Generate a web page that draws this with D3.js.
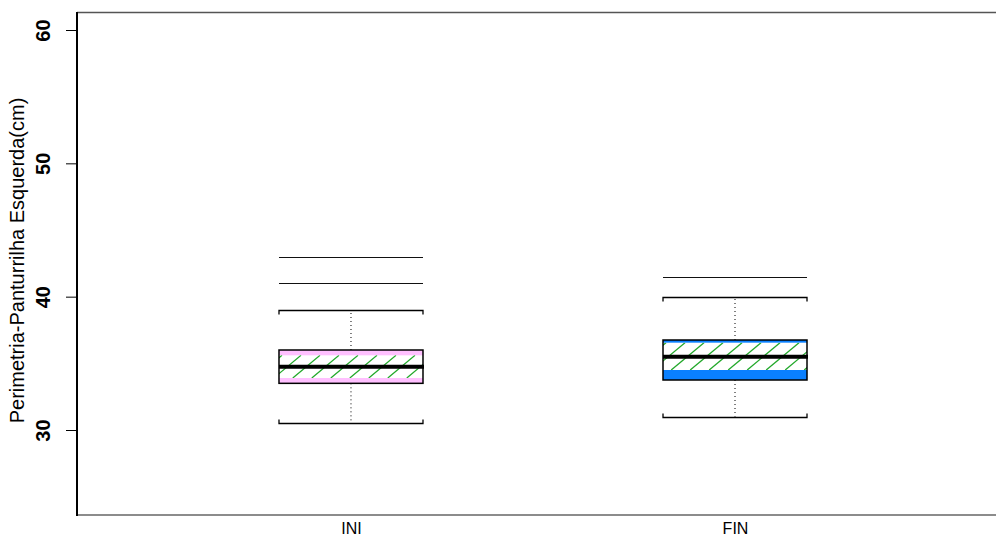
<!DOCTYPE html>
<html>
<head>
<meta charset="utf-8">
<script src="https://cdn.jsdelivr.net/npm/d3@7"></script>
<style>
  html, body { margin: 0; padding: 0; background: #fff; }
  svg { display: block; }
</style>
</head>
<body>
<svg id="chart" width="996" height="539"></svg>
<script>
// Calf perimeter (left leg) at start and end of the program
const categories = ["INI", "FIN"];
const whiskerLow = [30.5, 31];
const q1 = [33.5, 33.75];
const medians = [34.75, 35.5];
const q3 = [36, 36.75];
const whiskerHigh = [39, 40];
const outliers = [[41, 43], [41.5]];
const ciLow = [33.9, 34.5];
const ciHigh = [35.6, 36.55];
const boxColors = ["#ffc0ff", "#0a80ff"];
const yTicks = [30, 40, 50, 60];
const yLabel = "Perimetria-Panturrilha Esquerda(cm)";

const boxes = categories.map((c, i) => ({
  cat: c, lo: whiskerLow[i], q1: q1[i], med: medians[i], q3: q3[i],
  hi: whiskerHigh[i], out: outliers[i], ciLo: ciLow[i], ciHi: ciHigh[i],
  color: boxColors[i]
}));

const svg = d3.select("#chart");
const plotLeft = 77, plotTop = 12, plotBottom = 515, plotRight = 996;

const y = d3.scaleLinear().domain([30, 60]).range([430, 30]);
const x = d3.scalePoint().domain(categories).range([plotLeft, 1009]).padding(0.7135);
const boxW = 144;

// frame: left axis line, top and bottom rules
svg.append("line").attr("x1", plotLeft).attr("x2", plotRight).attr("y1", plotTop + 0.5).attr("y2", plotTop + 0.5)
  .attr("stroke", "#555").attr("stroke-width", 1.5);
svg.append("line").attr("x1", plotLeft).attr("x2", plotRight).attr("y1", plotBottom).attr("y2", plotBottom)
  .attr("stroke", "#666").attr("stroke-width", 1.5);

// y axis
const yAxis = d3.axisLeft(y).tickValues(yTicks).tickSize(11).tickPadding(0).tickFormat(d3.format("d"));
const gy = svg.append("g").attr("transform", `translate(${plotLeft},0)`).call(yAxis);
gy.select(".domain").remove();
gy.append("line").attr("x1", 0).attr("x2", 0).attr("y1", plotTop).attr("y2", plotBottom + 1)
  .attr("stroke", "#000").attr("stroke-width", 2);
gy.selectAll(".tick line").attr("stroke", "#000").attr("stroke-width", 1);
gy.selectAll(".tick text")
  .attr("x", 0).attr("dy", null)
  .attr("transform", "translate(-34,0) rotate(-90)")
  .attr("text-anchor", "middle").attr("dominant-baseline", "central")
  .attr("fill", "#000")
  .style("font-family", "'Liberation Sans', Arial, sans-serif")
  .style("font-size", "20px").style("font-weight", "bold");

svg.append("text")
  .attr("transform", `translate(17,${(plotTop + plotBottom) / 2 - 3}) rotate(-90)`)
  .attr("text-anchor", "middle").attr("dominant-baseline", "central")
  .style("font-family", "'Liberation Sans', Arial, sans-serif")
  .style("font-size", "20px").attr("fill", "#000")
  .text(yLabel);

// x axis labels
const xAxis = d3.axisBottom(x).tickSize(0).tickPadding(8);
const gx = svg.append("g").attr("transform", `translate(0,${plotBottom})`).call(xAxis);
gx.select(".domain").remove();
gx.selectAll(".tick text").attr("fill", "#000")
  .style("font-family", "'Liberation Sans', Arial, sans-serif")
  .style("font-size", "16px");

// boxes
const g = svg.append("g");
const defs = svg.append("defs");

boxes.forEach((b, i) => {
  const cx = x(b.cat);
  const x0 = cx - boxW / 2, x1 = cx + boxW / 2;
  const grp = g.append("g");

  // whiskers (dotted)
  grp.append("line").attr("x1", cx).attr("x2", cx).attr("y1", y(b.q3)).attr("y2", y(b.hi))
    .attr("stroke", "#000").attr("stroke-width", 1).attr("stroke-dasharray", "1,3");
  grp.append("line").attr("x1", cx).attr("x2", cx).attr("y1", y(b.q1)).attr("y2", y(b.lo))
    .attr("stroke", "#000").attr("stroke-width", 1).attr("stroke-dasharray", "1,3");

  // caps with short end ticks pointing toward the box
  [[b.hi, 1], [b.lo, -1]].forEach(([v, dir]) => {
    const yy = Math.round(y(v)) + 0.5;
    grp.append("path")
      .attr("d", `M${x0},${yy + dir * 4}V${yy}H${x1}V${yy + dir * 4}`)
      .attr("fill", "none").attr("stroke", "#000").attr("stroke-width", 1.3);
  });

  // outliers drawn as horizontal rules
  b.out.forEach(v => {
    const yy = Math.round(y(v)) + 0.5;
    grp.append("line").attr("x1", x0).attr("x2", x1).attr("y1", yy).attr("y2", yy)
      .attr("stroke", "#111").attr("stroke-width", 1.2);
  });

  // box fill
  grp.append("rect").attr("x", x0).attr("y", y(b.q3)).attr("width", boxW)
    .attr("height", y(b.q1) - y(b.q3)).attr("fill", b.color);

  // hatched confidence band around the median
  const hy0 = y(b.ciHi), hy1 = y(b.ciLo);
  const clipId = "clip" + i;
  defs.append("clipPath").attr("id", clipId).append("rect")
    .attr("x", x0).attr("y", hy0).attr("width", boxW).attr("height", hy1 - hy0);
  grp.append("rect").attr("x", x0).attr("y", hy0).attr("width", boxW)
    .attr("height", hy1 - hy0).attr("fill", "#fff");
  const hatch = grp.append("g").attr("clip-path", `url(#${clipId})`);
  const h = hy1 - hy0, slope = 1.2;
  for (let sx = x0 + 3 - h * slope; sx < x1 + 19; sx += 19) {
    hatch.append("line").attr("x1", sx).attr("y1", hy1).attr("x2", sx + h * slope).attr("y2", hy0)
      .attr("stroke", "#22a82a").attr("stroke-width", 1.3);
  }

  // box outline
  grp.append("rect").attr("x", x0).attr("y", y(b.q3)).attr("width", boxW)
    .attr("height", y(b.q1) - y(b.q3)).attr("fill", "none")
    .attr("stroke", "#000").attr("stroke-width", 1.5);

  // median
  grp.append("line").attr("x1", x0).attr("x2", x1 + 1).attr("y1", y(b.med)).attr("y2", y(b.med))
    .attr("stroke", "#000").attr("stroke-width", 4);
});
</script>
</body>
</html>
